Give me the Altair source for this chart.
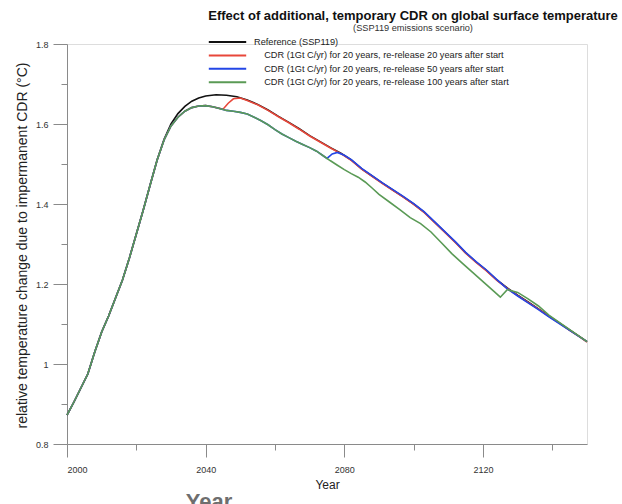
import altair as alt
import pandas as pd

FONT = "Liberation Sans"

# ---------------- data ----------------
ref_years = [2000, 2002, 2004, 2006, 2008, 2010, 2012, 2014, 2016, 2018, 2020, 2022, 2024,
             2026, 2028, 2030, 2032, 2034, 2036, 2038, 2040, 2043, 2046, 2049, 2052, 2055,
             2058, 2061, 2064, 2067, 2070, 2073, 2076, 2079, 2082, 2085, 2088, 2091, 2094,
             2097, 2100, 2103, 2106, 2109, 2112, 2115, 2118, 2121, 2124, 2127, 2130, 2133,
             2136, 2139, 2142, 2145, 2148, 2150]
ref_vals = [0.872, 0.905, 0.940, 0.975, 1.030, 1.080, 1.120, 1.165, 1.210, 1.265, 1.325, 1.385, 1.448,
            1.510, 1.562, 1.600, 1.626, 1.644, 1.657, 1.665, 1.670, 1.673, 1.672, 1.668, 1.660, 1.649,
            1.635, 1.619, 1.604, 1.588, 1.571, 1.556, 1.541, 1.527, 1.510, 1.488, 1.470, 1.452, 1.435,
            1.418, 1.400, 1.380, 1.355, 1.330, 1.305, 1.278, 1.255, 1.234, 1.210, 1.190, 1.172, 1.155,
            1.138, 1.120, 1.103, 1.085, 1.068, 1.056]

g100_years = [2000, 2002, 2004, 2006, 2008, 2010, 2012, 2014, 2016, 2018, 2020, 2022, 2024,
              2026, 2028, 2030, 2032, 2034, 2036, 2038, 2040, 2042, 2044, 2046, 2048, 2050,
              2052, 2054, 2056, 2058, 2060, 2062, 2064, 2066, 2068, 2070, 2072, 2074, 2076,
              2078, 2080, 2082, 2084, 2086, 2088, 2090, 2093, 2096, 2099, 2102, 2105, 2108,
              2111, 2114, 2117, 2120, 2123, 2125, 2127, 2130, 2133, 2136, 2139, 2142, 2145,
              2148, 2150]
g100_vals = [0.872, 0.905, 0.940, 0.975, 1.030, 1.080, 1.120, 1.165, 1.210, 1.265, 1.325, 1.385, 1.448,
             1.510, 1.560, 1.595, 1.617, 1.632, 1.641, 1.645, 1.646, 1.643, 1.639, 1.634, 1.632, 1.629,
             1.625, 1.617, 1.608, 1.598, 1.586, 1.575, 1.566, 1.557, 1.549, 1.541, 1.532, 1.520, 1.508,
             1.497, 1.486, 1.476, 1.467, 1.455, 1.440, 1.424, 1.405, 1.386, 1.366, 1.351, 1.330, 1.303,
             1.276, 1.252, 1.229, 1.206, 1.183, 1.167, 1.186, 1.179, 1.163, 1.145, 1.122, 1.104, 1.086,
             1.068, 1.056]

g20_years = [2000, 2002, 2004, 2006, 2008, 2010, 2012, 2014, 2016, 2018, 2020, 2022, 2024,
             2026, 2028, 2030, 2032, 2034, 2036, 2038, 2040, 2042, 2044, 2045, 2046.5, 2048,
             2050, 2052, 2055, 2058, 2061, 2064, 2067, 2070, 2073, 2076, 2079, 2082, 2085,
             2088, 2091, 2094, 2097, 2100, 2103, 2106, 2109, 2112, 2115, 2118, 2121, 2124,
             2127, 2130, 2133, 2136, 2139, 2142, 2145, 2148, 2150]
g20_vals = [0.872, 0.905, 0.940, 0.975, 1.030, 1.080, 1.120, 1.165, 1.210, 1.265, 1.325, 1.385, 1.448,
            1.510, 1.560, 1.595, 1.617, 1.632, 1.641, 1.645, 1.646, 1.643, 1.639, 1.637, 1.652, 1.663,
            1.665, 1.659, 1.648, 1.634, 1.618, 1.603, 1.587, 1.570, 1.555, 1.540, 1.526, 1.509, 1.487,
            1.469, 1.451, 1.434, 1.417, 1.399, 1.379, 1.354, 1.329, 1.304, 1.277, 1.254, 1.233, 1.209,
            1.189, 1.171, 1.154, 1.137, 1.119, 1.102, 1.084, 1.067, 1.055]

g50_years = [2000, 2002, 2004, 2006, 2008, 2010, 2012, 2014, 2016, 2018, 2020, 2022, 2024,
             2026, 2028, 2030, 2032, 2034, 2036, 2038, 2040, 2042, 2044, 2046, 2048, 2050,
             2052, 2054, 2056, 2058, 2060, 2062, 2064, 2066, 2068, 2070, 2072, 2074, 2075,
             2076.5, 2078, 2080, 2082, 2085, 2088, 2091, 2094, 2097, 2100, 2103, 2106, 2109,
             2112, 2115, 2118, 2121, 2124, 2127, 2130, 2133, 2136, 2139, 2142, 2145, 2148, 2150]
g50_vals = [0.872, 0.905, 0.940, 0.975, 1.030, 1.080, 1.120, 1.165, 1.210, 1.265, 1.325, 1.385, 1.448,
            1.510, 1.560, 1.595, 1.617, 1.632, 1.641, 1.645, 1.646, 1.643, 1.639, 1.634, 1.632, 1.629,
            1.625, 1.617, 1.608, 1.598, 1.586, 1.575, 1.566, 1.557, 1.549, 1.541, 1.532, 1.520, 1.514,
            1.525, 1.529, 1.522, 1.511, 1.489, 1.471, 1.453, 1.436, 1.419, 1.401, 1.381, 1.356, 1.331,
            1.306, 1.279, 1.256, 1.235, 1.211, 1.188, 1.170, 1.153, 1.136, 1.118, 1.101, 1.084, 1.067, 1.056]

INDENT = "\u200b\u00a0\u00a0\u00a0\u00a0"
series_names = [
    "Reference (SSP119)",
    INDENT + "CDR (1Gt C/yr) for 20 years, re-release 20 years after start",
    INDENT + "CDR (1Gt C/yr) for 20 years, re-release 50 years after start",
    INDENT + "CDR (1Gt C/yr) for 20 years, re-release 100 years after start",
]
series_colors = ["#111111", "#e8473a", "#2346e6", "#5a9a55"]

y_tick_values = [0.8, 0.9, 1.0, 1.1, 1.2, 1.3, 1.4, 1.5, 1.6, 1.7, 1.8]
x_tick_values = [2000, 2020, 2040, 2060, 2080, 2100, 2120, 2140]

rows = []
for name, yrs, vals in zip(series_names,
                           [ref_years, g20_years, g50_years, g100_years],
                           [ref_vals, g20_vals, g50_vals, g100_vals]):
    for yr, v in zip(yrs, vals):
        rows.append({"series": name, "year": yr, "value": v})
df = pd.DataFrame(rows)

color_scale = alt.Scale(domain=series_names, range=series_colors)

x_axis = alt.Axis(
    values=x_tick_values,
    labelExpr="datum.value % 40 == 0 ? datum.label : ''",
    tickSize={"condition": {"test": "datum.value % 40 == 0", "value": 13}, "value": 6},
    tickColor="#8a8a8a", domainColor="#8a8a8a", tickWidth=1, domainWidth=1,
    labelFont=FONT, labelFontSize=9, labelColor="#333333", labelPadding=8,
    title="Year", titleFont=FONT, titleFontSize=12, titleFontWeight="normal",
    titleColor="#222222", titleY=40, titleBaseline="middle",
    grid=False, format="d",
)
y_axis = alt.Axis(
    values=y_tick_values,
    labelExpr="round(datum.value*10) % 2 == 0 ? (datum.value == 1 ? '1' : format(datum.value, '.1f')) : ''",
    tickSize={"condition": {"test": "round(datum.value*10) % 2 == 0", "value": 14}, "value": 6},
    tickColor="#8a8a8a", domainColor="#8a8a8a", tickWidth=1, domainWidth=1,
    labelFont=FONT, labelFontSize=9, labelColor="#333333", labelPadding=5,
    title="relative temperature change due to impermanent CDR (\u00b0C)",
    titleFont=FONT, titleFontSize=14, titleFontWeight="normal", titleColor="#222222",
    titleX=-45, titleY=201, titleBaseline="middle",
    grid=False,
)

legend = alt.Legend(
    title=None, orient="none", legendX=154, legendY=-8.5,
    symbolType="M-3.4,0H3.4", symbolSize=121, symbolStrokeWidth=2,
    labelFont=FONT, labelFontSize=9.2, labelColor="#222222", labelOffset=20,
    labelLimit=500, rowPadding=1.4, padding=0,
)

layers = []
for name in series_names:
    layers.append(
        alt.Chart(df).transform_filter(alt.datum.series == name).mark_line(strokeWidth=1.6).encode(
            x=alt.X("year:Q", scale=alt.Scale(domain=[2000, 2150], nice=False, zero=False), axis=x_axis),
            y=alt.Y("value:Q", scale=alt.Scale(domain=[0.8, 1.8], nice=False, zero=False), axis=y_axis),
            color=alt.Color("series:N", scale=color_scale, legend=legend),
        )
    )

ghost = alt.Chart(pd.DataFrame({"t": ["Year"]})).mark_text(
    font=FONT, fontSize=22, fontWeight="bold", color="#6e6e6e", align="center", baseline="middle"
).encode(x=alt.value(142), y=alt.value(458), text="t:N")

chart = alt.layer(*layers, ghost).properties(
    width=520, height=400,
    autosize=alt.AutoSizeParams(type="none"),
    padding={"left": 67, "top": 44, "right": 35, "bottom": 60},
    title=alt.TitleParams(
        text="Effect of additional, temporary CDR on global surface temperature",
        subtitle="(SSP119 emissions scenario)",
        font=FONT, fontSize=13, fontWeight="bold", color="#111111",
        subtitleFont=FONT, subtitleFontSize=9.2, subtitleColor="#333333", subtitlePadding=1,
        anchor="middle", frame="group", dx=86, offset=2,
    ),
).configure_view(stroke=None).configure(background="white")

chart.save("out.html", embed_options={"renderer": "svg", "actions": False})
